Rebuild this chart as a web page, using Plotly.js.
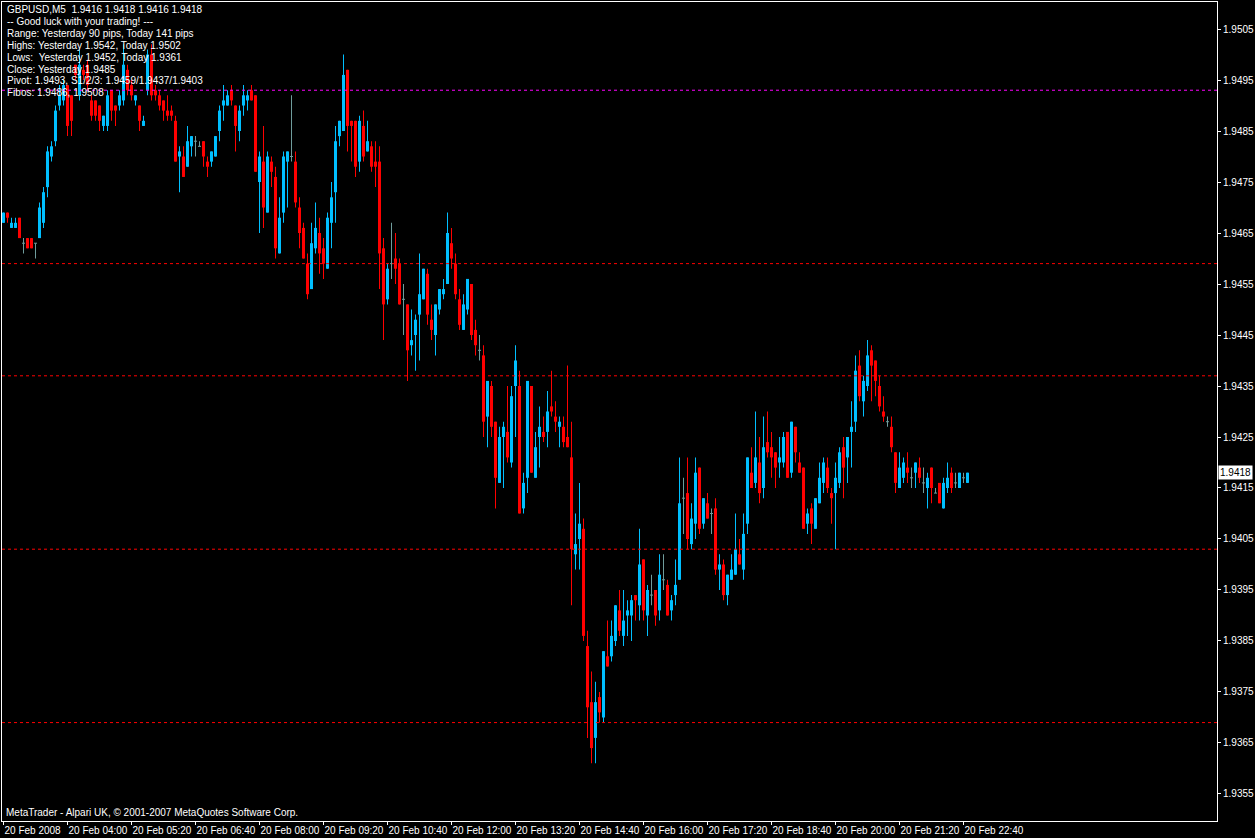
<!DOCTYPE html>
<html>
<head>
<meta charset="utf-8">
<script src="https://cdn.plot.ly/plotly-3.0.1.min.js"></script>
<style>html,body{margin:0;padding:0;background:#000;}#chart{width:1255px;height:838px;}</style>
</head>
<body>
<div id="chart"></div>
<script>
// ---- Data: GBPUSD M5, 20 Feb 2008, one value per 5-minute bar (first bar 02:40) ----
const open = [
1.9467,1.9469,1.9466,1.9466,1.9468,1.9463,1.9464,1.9464,1.9463,1.9464,
1.9467,1.9474,1.9480,1.9483,1.9490,1.9491,1.9494,1.9492,1.9498,1.9492,
1.9497,1.9498,1.9491,1.9491,1.9490,1.9486,1.9486,1.9493,1.9490,1.9490,
1.9491,1.9497,1.9494,1.9491,1.9490,1.9486,1.9493,1.9500,1.9493,1.9492,
1.9491,1.9489,1.9489,1.9487,1.9480,1.9480,1.9478,1.9482,1.9483,1.9482,
1.9483,1.9479,1.9479,1.9480,1.9485,1.9490,1.9490,1.9493,1.9490,1.9485,
1.9490,1.9491,1.9493,1.9492,1.9475,1.9479,1.9469,1.9479,1.9476,1.9461,
1.9469,1.9479,1.9480,1.9479,1.9470,1.9466,1.9459,1.9454,1.9462,1.9465,
1.9462,1.9458,1.9467,1.9473,1.9484,1.9485,1.9497,1.9487,1.9487,1.9479,
1.9486,1.9481,1.9482,1.9479,1.9479,1.9462,1.9452,1.9459,1.9460,1.9459,
1.9452,1.9451,1.9443,1.9445,1.9449,1.9452,1.9457,1.9448,1.9445,1.9450,
1.9453,1.9455,1.9463,1.9459,1.9452,1.9446,1.9450,1.9455,1.9446,1.9442,
1.9441,1.9429,1.9435,1.9428,1.9416,1.9425,1.9426,1.9420,1.9435,1.9435,
1.9411,1.9417,1.9435,1.9417,1.9425,1.9426,1.9426,1.9431,1.9429,1.9427,
1.9427,1.9425,1.9421,1.9402,1.9405,1.9407,1.9384,1.9373,1.9366,1.9374,
1.9370,1.9382,1.9382,1.9385,1.9391,1.9386,1.9390,1.9390,1.9394,1.9392,
1.9401,1.9390,1.9394,1.9395,1.9391,1.9397,1.9396,1.9391,1.9394,1.9397,
1.9413,1.9414,1.9404,1.9408,1.9419,1.9408,1.9412,1.9410,1.9411,1.9399,
1.9400,1.9394,1.9397,1.9398,1.9402,1.9399,1.9408,1.9418,1.9416,1.9420,
1.9415,1.9424,1.9423,1.9422,1.9420,1.9420,1.9426,1.9418,1.9427,1.9420,
1.9419,1.9408,1.9411,1.9407,1.9412,1.9416,1.9419,1.9414,1.9414,1.9416,
1.9423,1.9421,1.9426,1.9428,1.9439,1.9432,1.9435,1.9442,1.9440,1.9435,
1.9430,1.9428,1.9427,1.9422,1.9415,1.9417,1.9419,1.9417,1.9418,1.9419,
1.9416,1.9415,1.9419,1.9414,1.9416,1.9411,1.9415,1.9418,1.9416,1.9415,
1.9417,1.9416];
const high = [
1.9469,1.9469,1.9468,1.9468,1.9468,1.9464,1.9464,1.9464,1.9463,1.9471,
1.9474,1.9482,1.9483,1.9490,1.9494,1.9495,1.9494,1.9492,1.9498,1.9501,
1.9498,1.9499,1.9492,1.9491,1.9490,1.9488,1.9493,1.9493,1.9490,1.9493,
1.9502,1.9498,1.9495,1.9492,1.9490,1.9488,1.9501,1.9502,1.9494,1.9493,
1.9491,1.9492,1.9490,1.9488,1.9482,1.9482,1.9486,1.9484,1.9484,1.9483,
1.9483,1.9480,1.9481,1.9484,1.9490,1.9494,1.9493,1.9494,1.9490,1.9490,
1.9494,1.9493,1.9494,1.9492,1.9481,1.9486,1.9481,1.9480,1.9478,1.9472,
1.9481,1.9481,1.9492,1.9481,1.9472,1.9467,1.9461,1.9467,1.9471,1.9468,
1.9464,1.9469,1.9475,1.9486,1.9487,1.9500,1.9497,1.9487,1.9487,1.9488,
1.9489,1.9487,1.9483,1.9483,1.9482,1.9464,1.9459,1.9467,1.9465,1.9460,
1.9455,1.9451,1.9450,1.9449,1.9461,1.9458,1.9458,1.9451,1.9451,1.9454,
1.9456,1.9469,1.9466,1.9461,1.9454,1.9453,1.9456,1.9455,1.9448,1.9445,
1.9443,1.9436,1.9436,1.9428,1.9427,1.9428,1.9435,1.9435,1.9443,1.9438,
1.9418,1.9436,1.9435,1.9426,1.9431,1.9429,1.9434,1.9438,1.9432,1.9429,
1.9429,1.9439,1.9428,1.9410,1.9416,1.9409,1.9387,1.9379,1.9377,1.9375,
1.9383,1.9389,1.9389,1.9392,1.9395,1.9395,1.9393,1.9394,1.9394,1.9407,
1.9401,1.9396,1.9398,1.9395,1.9402,1.9402,1.9397,1.9394,1.9401,1.9421,
1.9417,1.9421,1.9412,1.9421,1.9419,1.9413,1.9414,1.9411,1.9413,1.9402,
1.9401,1.9398,1.9402,1.9410,1.9405,1.9410,1.9421,1.9423,1.9430,1.9425,
1.9429,1.9430,1.9426,1.9422,1.9425,1.9426,1.9426,1.9428,1.9427,1.9422,
1.9419,1.9411,1.9412,1.9413,1.9420,1.9421,1.9421,1.9415,1.9420,1.9423,
1.9425,1.9425,1.9432,1.9441,1.9442,1.9437,1.9444,1.9443,1.9440,1.9437,
1.9433,1.9429,1.9429,1.9422,1.9422,1.9421,1.9422,1.9419,1.9420,1.9421,
1.9419,1.9418,1.9419,1.9415,1.9416,1.9417,1.9420,1.9419,1.9418,1.9418,
1.9418,1.9418];
const low = [
1.9467,1.9467,1.9466,1.9466,1.9464,1.9461,1.9462,1.9462,1.9460,1.9464,
1.9466,1.9472,1.9479,1.9482,1.9489,1.9490,1.9484,1.9484,1.9495,1.9491,
1.9495,1.9493,1.9487,1.9487,1.9485,1.9485,1.9485,1.9487,1.9486,1.9489,
1.9490,1.9492,1.9491,1.9490,1.9485,1.9486,1.9492,1.9491,1.9491,1.9489,
1.9487,1.9487,1.9487,1.9479,1.9473,1.9476,1.9478,1.9480,1.9480,1.9482,
1.9478,1.9476,1.9478,1.9480,1.9483,1.9487,1.9490,1.9490,1.9481,1.9483,
1.9488,1.9489,1.9491,1.9477,1.9465,1.9466,1.9469,1.9474,1.9460,1.9461,
1.9467,1.9470,1.9479,1.9470,1.9462,1.9460,1.9452,1.9454,1.9461,1.9457,
1.9456,1.9458,1.9462,1.9467,1.9482,1.9485,1.9481,1.9479,1.9476,1.9477,
1.9479,1.9481,1.9477,1.9474,1.9454,1.9444,1.9451,1.9456,1.9455,1.9451,
1.9445,1.9436,1.9441,1.9438,1.9440,1.9452,1.9447,1.9444,1.9441,1.9449,
1.9452,1.9455,1.9458,1.9452,1.9446,1.9446,1.9449,1.9444,1.9441,1.9440,
1.9425,1.9423,1.9425,1.9411,1.9416,1.9415,1.9420,1.9419,1.9425,1.9410,
1.9410,1.9414,1.9418,1.9417,1.9419,1.9424,1.9423,1.9429,1.9426,1.9423,
1.9423,1.9423,1.9392,1.9399,1.9399,1.9385,1.9366,1.9361,1.9361,1.9369,
1.9369,1.9380,1.9381,1.9384,1.9386,1.9384,1.9386,1.9385,1.9389,1.9389,
1.9389,1.9386,1.9392,1.9388,1.9389,1.9395,1.9390,1.9389,1.9392,1.9397,
1.9406,1.9403,1.9403,1.9405,1.9406,1.9407,1.9409,1.9406,1.9398,1.9395,
1.9393,1.9392,1.9397,1.9398,1.9400,1.9397,1.9406,1.9415,1.9415,1.9412,
1.9413,1.9421,1.9417,1.9415,1.9417,1.9419,1.9417,1.9417,1.9420,1.9418,
1.9407,1.9406,1.9404,1.9407,1.9412,1.9414,1.9414,1.9408,1.9403,1.9415,
1.9413,1.9416,1.9419,1.9426,1.9432,1.9429,1.9434,1.9432,1.9433,1.9430,
1.9428,1.9427,1.9422,1.9414,1.9415,1.9416,1.9416,1.9415,1.9415,1.9416,
1.9414,1.9411,1.9412,1.9414,1.9412,1.9411,1.9414,1.9414,1.9415,1.9415,
1.9416,1.9416];
const close = [
1.9469,1.9468,1.9467,1.9467,1.9464,1.9463,1.9462,1.9462,1.9463,1.9470,
1.9473,1.9481,1.9482,1.9489,1.9492,1.9494,1.9486,1.9487,1.9496,1.9498,
1.9496,1.9494,1.9488,1.9488,1.9487,1.9488,1.9492,1.9489,1.9489,1.9492,
1.9498,1.9493,1.9492,1.9492,1.9487,1.9487,1.9500,1.9492,1.9492,1.9490,
1.9489,1.9488,1.9488,1.9479,1.9481,1.9476,1.9483,1.9484,1.9483,1.9482,
1.9480,1.9478,1.9481,1.9484,1.9489,1.9491,1.9492,1.9491,1.9486,1.9489,
1.9492,1.9492,1.9491,1.9477,1.9480,1.9470,1.9480,1.9477,1.9462,1.9468,
1.9480,1.9481,1.9480,1.9471,1.9465,1.9460,1.9453,1.9463,1.9466,1.9461,
1.9459,1.9468,1.9472,1.9483,1.9487,1.9496,1.9486,1.9486,1.9478,1.9487,
1.9480,1.9483,1.9478,1.9478,1.9461,1.9451,1.9458,1.9459,1.9458,1.9451,
1.9452,1.9442,1.9444,1.9448,1.9453,1.9458,1.9449,1.9446,1.9451,1.9454,
1.9454,1.9465,1.9460,1.9453,1.9447,1.9451,1.9456,1.9445,1.9443,1.9442,
1.9428,1.9436,1.9427,1.9417,1.9425,1.9427,1.9421,1.9433,1.9440,1.9410,
1.9416,1.9436,1.9418,1.9423,1.9427,1.9425,1.9430,1.9430,1.9428,1.9428,
1.9424,1.9423,1.9403,1.9404,1.9408,1.9386,1.9372,1.9364,1.9373,1.9371,
1.9383,1.9380,1.9386,1.9392,1.9387,1.9389,1.9391,1.9393,1.9393,1.9400,
1.9391,1.9395,1.9394,1.9390,1.9398,1.9397,1.9390,1.9393,1.9396,1.9412,
1.9413,1.9405,1.9409,1.9418,1.9407,1.9413,1.9409,1.9410,1.9399,1.9400,
1.9394,1.9398,1.9399,1.9403,1.9400,1.9406,1.9421,1.9415,1.9421,1.9414,
1.9423,1.9422,1.9421,1.9419,1.9421,1.9425,1.9417,1.9428,1.9422,1.9418,
1.9407,1.9410,1.9408,1.9413,1.9417,1.9420,1.9415,1.9413,1.9417,1.9422,
1.9419,1.9425,1.9427,1.9438,1.9433,1.9436,1.9441,1.9439,1.9436,1.9431,
1.9429,1.9428,1.9423,1.9416,1.9419,1.9420,1.9418,1.9417,1.9420,1.9417,
1.9416,1.9417,1.9415,1.9414,1.9412,1.9416,1.9417,1.9415,1.9416,1.9418,
1.9417,1.9418];

// x-axis labels, one every 16 bars (80 minutes)
const timeLabels = ["20 Feb 2008","20 Feb 04:00","20 Feb 05:20","20 Feb 06:40","20 Feb 08:00",
  "20 Feb 09:20","20 Feb 10:40","20 Feb 12:00","20 Feb 13:20","20 Feb 14:40","20 Feb 16:00",
  "20 Feb 17:20","20 Feb 18:40","20 Feb 20:00","20 Feb 21:20","20 Feb 22:40"];
const labelEvery = 16;
// price axis ticks
const priceTicks = [1.9355,1.9365,1.9375,1.9385,1.9395,1.9405,1.9415,1.9425,1.9435,1.9445,1.9455,1.9465,1.9475,1.9485,1.9495,1.9505];
// indicator levels
const pivotLevel = [1.9493];
const supportLevels = [1.9459, 1.9437, 1.9403, 1.9369];
const lastPrice = 1.9418;
const infoLines = [
  "GBPUSD,M5\u00A0\u00A01.9416 1.9418 1.9416 1.9418",
  "-- Good luck with your trading! ---",
  "Range: Yesterday 90 pips, Today 141 pips",
  "Highs: Yesterday 1.9542, Today 1.9502",
  "Lows:\u00A0\u00A0Yesterday 1.9452, Today 1.9361",
  "Close: Yesterday 1.9485",
  "Pivot: 1.9493, S1/2/3: 1.9459/1.9437/1.9403",
  "Fibos: 1.9486, 1.9508"
];
const copyright = "MetaTrader - Alpari UK, \u00A9 2001-2007 MetaQuotes Software Corp.";

// ---- styling ----
const UP = '#00BFFF', DOWN = '#FF0000', DOJI = '#6F9C9C';
const FONT = 'Tahoma, "Liberation Sans", Arial, sans-serif';

const idx = open.map((_, i) => i);
const col = open.map((o, i) => close[i] > o ? UP : (close[i] < o ? DOWN : DOJI));
const minBody = 0.00002;
const bodyBase = open.map((o, i) => o === close[i] ? o - minBody / 2 : Math.min(o, close[i]));
const bodyLen = open.map((o, i) => Math.max(Math.abs(close[i] - o), minBody));
const wickBase = low;
const wickLen = high.map((h, i) => Math.max(h - low[i], 0.000001));

const wicks = {type:'bar', x: idx, base: wickBase, y: wickLen, width: 0.25,
  marker:{color: col, line:{width:0}}, hoverinfo:'skip'};
const bodies = {type:'bar', x: idx, base: bodyBase, y: bodyLen, width: 0.75,
  marker:{color: col, line:{width:0}}, hoverinfo:'skip'};

const tickvals = timeLabels.map((_, k) => k * labelEvery);

const shapes = [];
pivotLevel.forEach(v => shapes.push({type:'line', xref:'paper', x0:0, x1:1, yref:'y', y0:v, y1:v,
  line:{color:'#FF00FF', width:1, dash:'3px,3px'}, layer:'above'}));
supportLevels.forEach(v => shapes.push({type:'line', xref:'paper', x0:0, x1:1, yref:'y', y0:v, y1:v,
  line:{color:'#FF0000', width:1, dash:'3px,3px'}, layer:'above'}));

const plotTop = 2, plotH = 819;
const annotations = infoLines.map((t, k) => ({
  xref:'paper', yref:'paper', x:0, xanchor:'left', xshift:3,
  y: 1 - (9.5 + 11.9 * k - plotTop) / plotH, yanchor:'middle',
  text: t, showarrow:false, font:{family:FONT, size:10, color:'#FFFFFF'}
}));
annotations.push({xref:'paper', yref:'paper', x:0, xanchor:'left', xshift:2,
  y: 1 - (812 - plotTop) / plotH, yanchor:'middle', text: copyright, showarrow:false,
  font:{family:FONT, size:10, color:'#FFFFFF'}});
annotations.push({xref:'paper', yref:'y', x:1, xanchor:'left', xshift:1, y:lastPrice, yanchor:'middle',
  text: lastPrice.toFixed(4), showarrow:false, bgcolor:'#FFFFFF', borderpad:1,
  font:{family:FONT, size:10, color:'#000000'}});

const layout = {
  width:1255, height:838,
  paper_bgcolor:'#000000', plot_bgcolor:'#000000',
  margin:{l:2, r:38, t:2, b:17, pad:0},
  showlegend:false, barmode:'overlay',
  font:{family:FONT, size:10, color:'#FFFFFF'},
  xaxis:{range:[-0.375, 303.375], tickmode:'array', tickvals: tickvals, ticktext: timeLabels,
    tickangle:0, ticks:'outside', ticklen:3, tickcolor:'#FFFFFF', tickwidth:1,
    ticklabelposition:'outside right', ticklabelstandoff:0,
    showgrid:false, zeroline:false, showline:true, mirror:true, linecolor:'#FFFFFF', linewidth:1,
    tickfont:{family:FONT, size:10, color:'#FFFFFF'}, fixedrange:true},
  yaxis:{range:[1.93497, 1.95103], side:'right', tickmode:'array', tickvals: priceTicks,
    tickformat:'.4f', ticks:'outside', ticklen:3, tickcolor:'#FFFFFF', tickwidth:1,
    showgrid:false, zeroline:false, showline:true, mirror:true, linecolor:'#FFFFFF', linewidth:1,
    tickfont:{family:FONT, size:10, color:'#FFFFFF'}, fixedrange:true},
  shapes: shapes,
  annotations: annotations
};

Plotly.newPlot('chart', [wicks, bodies], layout, {displayModeBar:false, staticPlot:true});
</script>
</body>
</html>
